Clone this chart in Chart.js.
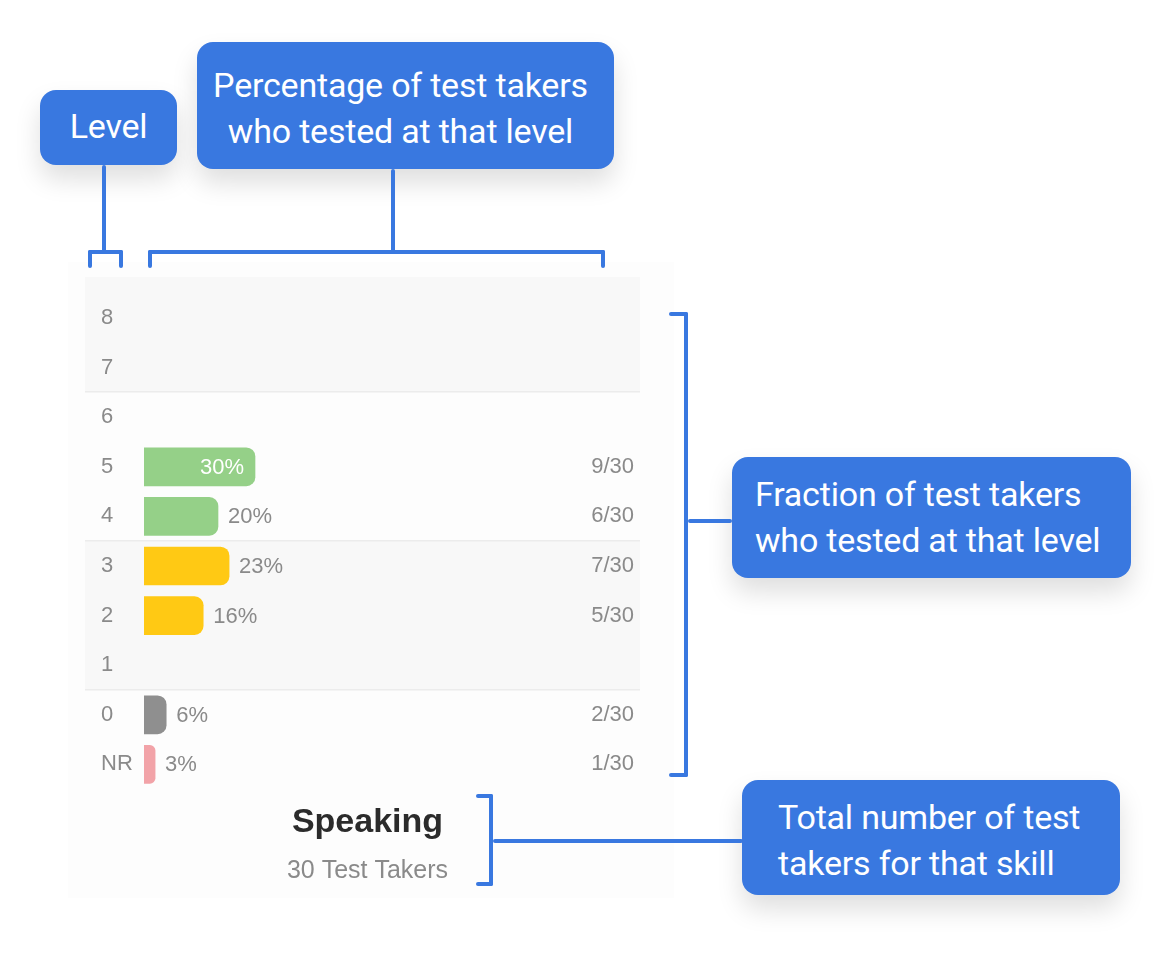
<!DOCTYPE html>
<html>
<head>
<meta charset="utf-8">
<title>Speaking - level distribution</title>
<script src="https://cdn.jsdelivr.net/npm/chart.js@4.4.1/dist/chart.umd.min.js"></script>
<style>
    html, body { margin: 0; padding: 0; background: #fff; }
    #stage { position: relative; width: 1168px; height: 960px; overflow: hidden; font-family: Roboto, "Noto Sans", sans-serif; }
    .card { position: absolute; left: 68px; top: 262px; width: 606px; height: 636px; background: #fdfdfd; }
    .chart-box { position: absolute; left: 85px; top: 277px; width: 555px; height: 624px; }
    .note {
        position: absolute; box-sizing: border-box; background: #3978e0; color: #fff;
        border-radius: 16px; font-size: 34px; line-height: 46px; letter-spacing: -0.2px;
        box-shadow: 0 14px 26px rgba(0, 0, 0, 0.13);
    }
    .ln { position: absolute; background: #3978e0; border-radius: 2px; }
</style>
</head>
<body>
<div id="stage">
    <div class="card"></div>
    <div class="chart-box"><canvas id="speakingChart"></canvas></div>

    <!-- callouts -->
    <div class="note" style="left:40px;top:90px;width:137px;height:75px;text-align:center;line-height:72px;">Level</div>
    <div class="note" style="left:197px;top:42px;width:417px;height:127px;text-align:center;padding:20px 10px 0 0;">Percentage of test takers<br>who tested at that level</div>
    <div class="note" style="left:732px;top:457px;width:399px;height:121px;padding:14px 0 0 23px;">Fraction of test takers<br>who tested at that level</div>
    <div class="note" style="left:742px;top:780px;width:378px;height:115px;padding:14px 0 0 36px;">Total number of test<br>takers for that skill</div>

    <!-- level bracket -->
    <div class="ln" style="left:102px;top:165px;width:4px;height:89px;"></div>
    <div class="ln" style="left:88px;top:250px;width:35px;height:4px;"></div>
    <div class="ln" style="left:88px;top:250px;width:4px;height:18px;"></div>
    <div class="ln" style="left:119px;top:250px;width:4px;height:18px;"></div>

    <!-- percentage bracket -->
    <div class="ln" style="left:391px;top:169px;width:4px;height:85px;"></div>
    <div class="ln" style="left:148px;top:250px;width:457px;height:4px;"></div>
    <div class="ln" style="left:148px;top:250px;width:4px;height:18px;"></div>
    <div class="ln" style="left:601px;top:250px;width:4px;height:18px;"></div>

    <!-- fraction bracket -->
    <div class="ln" style="left:684px;top:312px;width:4px;height:465px;"></div>
    <div class="ln" style="left:669px;top:312px;width:19px;height:4px;"></div>
    <div class="ln" style="left:669px;top:773px;width:19px;height:4px;"></div>
    <div class="ln" style="left:688px;top:519px;width:44px;height:4px;"></div>

    <!-- total bracket -->
    <div class="ln" style="left:489px;top:794px;width:4px;height:92px;"></div>
    <div class="ln" style="left:476px;top:794px;width:17px;height:4px;"></div>
    <div class="ln" style="left:476px;top:882px;width:17px;height:4px;"></div>
    <div class="ln" style="left:493px;top:839px;width:250px;height:4px;"></div>
</div>

<script>
// Speaking skill - how many test takers landed on each level

const LEVELS = ['8', '7', '6', '5', '4', '3', '2', '1', '0', 'NR'];
const PERCENTS = [0, 0, 0, 30, 20, 23, 16, 0, 6, 3];
const FRACTIONS = ['', '', '', '9/30', '6/30', '7/30', '5/30', '', '2/30', '1/30'];
const SKILL = 'Speaking';
const TAKERS = '30 Test Takers';

// level groups, top to bottom: first row index of each shaded group
const GROUP_STARTS = [0, 2, 5, 8];

const GREEN = '#95d088';
const YELLOW = '#ffc914';
const GREY = '#8f8f8f';
const PINK = '#f2a3a8';
const LABEL_GREY = '#8a8a8a';
const CHART_FONT = 'Arial, "Liberation Sans", Helvetica, sans-serif';

function barColor(level) {
    if (level === 'NR') return PINK;
    const n = Number(level);
    if (n >= 4) return GREEN;
    if (n >= 1) return YELLOW;
    return GREY;
}

// shaded bands behind level groups + thin separators
const bandsPlugin = {
    id: 'levelBands',
    beforeDraw(chart) {
        const { ctx, scales } = chart;
        const y = scales.y;
        const half = (y.getPixelForValue(1) - y.getPixelForValue(0)) / 2;
        ctx.save();
        GROUP_STARTS.forEach((start, g) => {
            const end = (GROUP_STARTS[g + 1] || LEVELS.length) - 1;
            let top = y.getPixelForValue(start) - half;
            const bottom = y.getPixelForValue(end) + half;
            if (g === 0) top = 0;
            ctx.fillStyle = g % 2 === 0 ? '#f8f8f8' : '#fdfdfd';
            ctx.fillRect(0, top, chart.width, bottom - top);
            if (g > 0) {
                ctx.fillStyle = '#ececec';
                ctx.fillRect(0, Math.round(top) - 1, chart.width, 1.5);
            }
        });
        ctx.restore();
    }
};

// percentage next to (or inside) each bar
const pctLabelsPlugin = {
    id: 'pctLabels',
    afterDatasetsDraw(chart) {
        const { ctx } = chart;
        const meta = chart.getDatasetMeta(0);
        ctx.save();
        ctx.font = '22px ' + CHART_FONT;
        ctx.textBaseline = 'middle';
        meta.data.forEach((bar, i) => {
            const v = PERCENTS[i];
            if (!v) return;
            const txt = v + '%';
            if (v >= 25) {
                ctx.fillStyle = '#fff';
                ctx.textAlign = 'right';
                ctx.fillText(txt, bar.x - 11, bar.y + 1);
            } else {
                ctx.fillStyle = LABEL_GREY;
                ctx.textAlign = 'left';
                ctx.fillText(txt, bar.x + 10, bar.y + 1);
            }
        });
        ctx.restore();
    }
};

new Chart(document.getElementById('speakingChart'), {
    type: 'bar',
    data: {
        labels: LEVELS,
        datasets: [{
            data: PERCENTS.map(v => v || null),   // no sliver for empty levels
            backgroundColor: LEVELS.map(barColor),
            borderRadius: 9,
            barThickness: 38
        }]
    },
    options: {
        indexAxis: 'y',
        responsive: true,
        maintainAspectRatio: false,
        animation: false,
        layout: { padding: { left: 16, right: 6, top: 8, bottom: 10 } },
        plugins: {
            legend: { display: false },
            tooltip: { enabled: false },
            title: {
                display: true,
                position: 'bottom',
                weight: 1000,
                text: SKILL,
                color: '#2b2b2b',
                font: { family: CHART_FONT, size: 34, weight: 'bold' },
                padding: { top: 13, bottom: 0 }
            },
            subtitle: {
                display: true,
                position: 'bottom',
                weight: 1500,
                text: TAKERS,
                color: LABEL_GREY,
                font: { family: CHART_FONT, size: 25 },
                padding: { top: 13, bottom: 5 }
            }
        },
        scales: {
            x: { display: false, min: 0, max: 100 },
            y: {
                grid: { display: false },
                border: { display: false },
                ticks: { crossAlign: 'far', color: LABEL_GREY, font: { family: CHART_FONT, size: 22 } },
                afterFit: s => { s.width = 43; }
            },
            y2: {
                type: 'category',
                labels: FRACTIONS,
                position: 'right',
                offset: true,
                grid: { display: false },
                border: { display: false },
                ticks: { crossAlign: 'far', color: LABEL_GREY, font: { family: CHART_FONT, size: 22 } },
                afterFit: s => { s.width = 120; }
            }
        }
    },
    plugins: [bandsPlugin, pctLabelsPlugin]
});
</script>
</body>
</html>
